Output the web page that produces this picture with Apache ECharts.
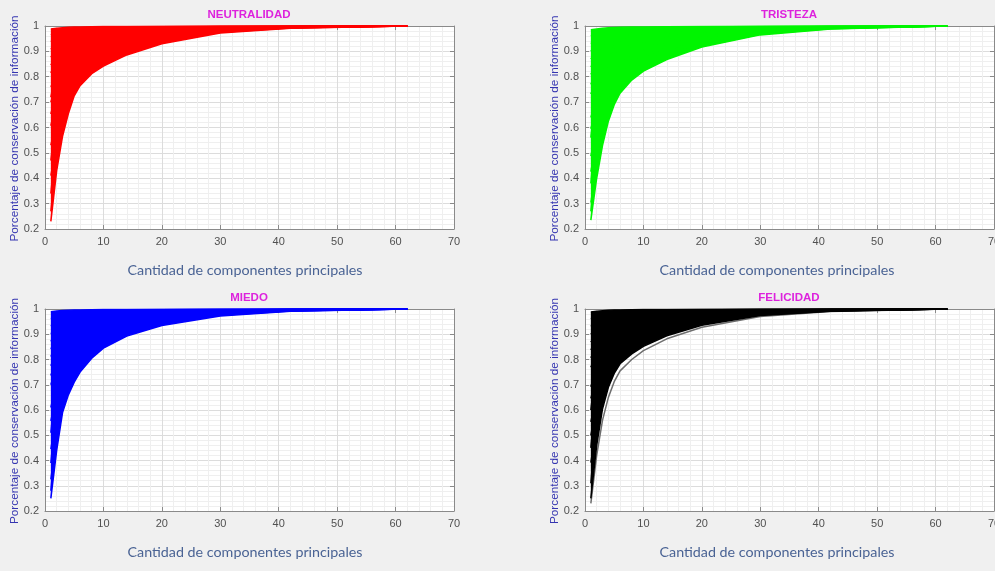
<!DOCTYPE html>
<html>
<head>
<meta charset="utf-8">
<script src="https://cdn.jsdelivr.net/npm/echarts/dist/echarts.min.js"></script>
<style>
html,body{margin:0;padding:0;background:#f0f0f0;}
#chart{width:995px;height:571px;}
</style>
</head>
<body>
<div id="chart"></div>
<script>
// Number of principal components (x sample points)
const componentes = [1,2,3,4,5,6,8,10,14,20,30,42,62];

// Panel titles
const titulos = ['NEUTRALIDAD','TRISTEZA','MIEDO','FELICIDAD'];

// Tick labels
const xTicks = [0,10,20,30,40,50,60,70];
const yTicks = [0.2,0.3,0.4,0.5,0.6,0.7,0.8,0.9,1];

// Curves (cumulative information retained)
const neutralidad = [
  [0.23,0.43,0.565,0.655,0.725,0.765,0.812,0.842,0.886,0.93,0.972,0.991,1],
  [0.27,0.487,0.608,0.689,0.752,0.788,0.831,0.858,0.897,0.937,0.975,0.992,1],
  [0.41,0.538,0.648,0.721,0.777,0.81,0.848,0.872,0.908,0.943,0.977,0.993,1],
  [0.34,0.584,0.682,0.748,0.799,0.828,0.863,0.885,0.917,0.949,0.98,0.993,1],
  [0.53,0.629,0.717,0.776,0.821,0.847,0.878,0.897,0.926,0.954,0.982,0.994,1],
  [0.47,0.669,0.748,0.8,0.84,0.864,0.891,0.908,0.934,0.959,0.984,0.995,1],
  [0.607,0.709,0.778,0.824,0.86,0.88,0.904,0.919,0.942,0.964,0.986,0.995,1],
  [0.653,0.743,0.804,0.845,0.876,0.894,0.915,0.929,0.949,0.968,0.987,0.996,1],
  [0.7,0.778,0.83,0.865,0.893,0.908,0.927,0.938,0.956,0.973,0.989,0.996,1],
  [0.76,0.806,0.852,0.883,0.906,0.92,0.936,0.946,0.961,0.976,0.99,0.997,1],
  [0.72,0.835,0.874,0.9,0.92,0.932,0.945,0.954,0.967,0.98,0.992,0.997,1],
  [0.815,0.863,0.896,0.917,0.934,0.944,0.955,0.962,0.973,0.983,0.993,0.998,1],
  [0.846,0.886,0.913,0.931,0.945,0.953,0.962,0.968,0.977,0.986,0.994,0.998,1],
  [0.877,0.909,0.93,0.945,0.956,0.962,0.97,0.975,0.982,0.989,0.996,0.999,1],
  [0.908,0.932,0.948,0.959,0.967,0.972,0.977,0.981,0.986,0.992,0.997,0.999,1],
  [0.938,0.954,0.965,0.972,0.978,0.981,0.985,0.987,0.991,0.994,0.998,0.999,1],
  [0.965,0.974,0.98,0.984,0.988,0.989,0.992,0.993,0.995,0.997,0.999,1,1],
  [0.988,0.991,0.993,0.995,0.996,0.996,0.997,0.998,0.998,0.999,1,1,1]
];

const tristeza = [
  [0.235,0.4,0.53,0.625,0.69,0.735,0.787,0.822,0.868,0.917,0.965,0.988,1],
  [0.304,0.454,0.572,0.659,0.718,0.759,0.806,0.838,0.88,0.924,0.968,0.989,1],
  [0.27,0.502,0.61,0.689,0.743,0.78,0.823,0.852,0.89,0.931,0.971,0.99,1],
  [0.426,0.55,0.647,0.719,0.767,0.801,0.84,0.866,0.901,0.938,0.974,0.991,1],
  [0.487,0.598,0.685,0.749,0.792,0.822,0.857,0.881,0.912,0.944,0.977,0.992,1],
  [0.38,0.64,0.718,0.775,0.814,0.841,0.872,0.893,0.921,0.95,0.979,0.993,1],
  [0.595,0.682,0.751,0.801,0.836,0.86,0.887,0.906,0.93,0.956,0.981,0.994,1],
  [0.64,0.718,0.779,0.824,0.854,0.875,0.9,0.916,0.938,0.961,0.984,0.994,1],
  [0.56,0.754,0.807,0.846,0.873,0.891,0.913,0.927,0.946,0.966,0.986,0.995,1],
  [0.732,0.79,0.835,0.869,0.891,0.907,0.925,0.938,0.954,0.971,0.988,0.996,1],
  [0.77,0.82,0.859,0.887,0.907,0.92,0.936,0.947,0.96,0.975,0.989,0.996,1],
  [0.809,0.85,0.882,0.906,0.922,0.934,0.947,0.955,0.967,0.979,0.991,0.997,1],
  [0.839,0.874,0.901,0.921,0.935,0.944,0.955,0.963,0.972,0.983,0.993,0.997,1],
  [0.87,0.898,0.92,0.936,0.947,0.955,0.964,0.97,0.978,0.986,0.994,0.998,1],
  [0.901,0.922,0.939,0.951,0.96,0.966,0.972,0.977,0.983,0.989,0.995,0.998,1],
  [0.931,0.946,0.958,0.966,0.972,0.976,0.981,0.984,0.988,0.993,0.997,0.999,1],
  [0.962,0.97,0.976,0.981,0.984,0.987,0.989,0.991,0.993,0.996,0.998,0.999,1],
  [0.985,0.988,0.991,0.993,0.994,0.995,0.996,0.996,0.997,0.998,0.999,1,1]
];

const miedo = [
  [0.25,0.44,0.59,0.66,0.71,0.75,0.805,0.845,0.893,0.935,0.972,0.991,1],
  [0.325,0.496,0.631,0.694,0.739,0.775,0.824,0.86,0.904,0.941,0.975,0.992,1],
  [0.28,0.541,0.664,0.721,0.762,0.795,0.84,0.873,0.912,0.947,0.977,0.993,1],
  [0.445,0.586,0.697,0.748,0.785,0.815,0.856,0.885,0.921,0.952,0.979,0.993,1],
  [0.39,0.63,0.729,0.776,0.809,0.835,0.871,0.898,0.929,0.957,0.982,0.994,1],
  [0.557,0.67,0.758,0.799,0.829,0.852,0.885,0.909,0.937,0.962,0.983,0.995,1],
  [0.61,0.709,0.787,0.823,0.849,0.87,0.899,0.919,0.944,0.966,0.985,0.995,1],
  [0.51,0.742,0.811,0.844,0.867,0.885,0.91,0.929,0.951,0.97,0.987,0.996,1],
  [0.7,0.776,0.836,0.864,0.884,0.9,0.922,0.938,0.957,0.974,0.989,0.996,1],
  [0.737,0.804,0.856,0.881,0.898,0.912,0.932,0.946,0.963,0.977,0.99,0.997,1],
  [0.775,0.832,0.877,0.898,0.913,0.925,0.941,0.953,0.968,0.98,0.992,0.997,1],
  [0.812,0.86,0.897,0.915,0.927,0.937,0.951,0.961,0.973,0.984,0.993,0.998,1],
  [0.842,0.882,0.914,0.929,0.939,0.947,0.959,0.967,0.978,0.986,0.994,0.998,1],
  [0.872,0.905,0.93,0.942,0.951,0.957,0.967,0.974,0.982,0.989,0.995,0.998,1],
  [0.902,0.927,0.947,0.956,0.962,0.967,0.975,0.98,0.986,0.992,0.996,0.999,1],
  [0.932,0.95,0.963,0.969,0.974,0.977,0.982,0.986,0.99,0.994,0.997,0.999,1],
  [0.962,0.972,0.979,0.983,0.985,0.987,0.99,0.992,0.995,0.997,0.999,1,1],
  [0.989,0.992,0.994,0.995,0.996,0.996,0.997,0.998,0.998,0.999,1,1,1]
];

// first curve is the separate grey outlier below the black mass
const felicidad = [
  [0.23,0.42,0.56,0.65,0.712,0.755,0.8,0.835,0.882,0.928,0.97,0.99,1],
  [0.25,0.46,0.605,0.69,0.745,0.783,0.822,0.852,0.894,0.936,0.974,0.991,1],
  [0.392,0.542,0.652,0.723,0.772,0.806,0.842,0.87,0.907,0.943,0.976,0.992,1],
  [0.31,0.582,0.683,0.748,0.793,0.824,0.856,0.881,0.915,0.948,0.978,0.993,1],
  [0.499,0.623,0.714,0.772,0.813,0.841,0.87,0.893,0.923,0.953,0.98,0.993,1],
  [0.553,0.664,0.745,0.797,0.833,0.858,0.884,0.904,0.932,0.958,0.983,0.994,1],
  [0.45,0.698,0.771,0.818,0.85,0.873,0.896,0.914,0.939,0.963,0.984,0.995,1],
  [0.646,0.733,0.798,0.839,0.868,0.887,0.908,0.924,0.946,0.967,0.986,0.995,1],
  [0.692,0.768,0.824,0.86,0.885,0.902,0.92,0.934,0.953,0.971,0.988,0.996,1],
  [0.6,0.797,0.846,0.877,0.899,0.914,0.93,0.942,0.959,0.975,0.989,0.996,1],
  [0.769,0.826,0.868,0.895,0.914,0.926,0.94,0.95,0.965,0.978,0.991,0.997,1],
  [0.807,0.855,0.89,0.912,0.928,0.939,0.95,0.959,0.97,0.982,0.992,0.997,1],
  [0.838,0.878,0.908,0.926,0.94,0.949,0.958,0.965,0.975,0.985,0.994,0.998,1],
  [0.869,0.901,0.925,0.94,0.951,0.958,0.966,0.972,0.98,0.988,0.995,0.998,1],
  [0.9,0.925,0.943,0.954,0.963,0.968,0.974,0.979,0.985,0.991,0.996,0.999,1],
  [0.931,0.948,0.96,0.968,0.974,0.978,0.982,0.985,0.989,0.994,0.997,0.999,1],
  [0.962,0.971,0.978,0.983,0.986,0.988,0.99,0.992,0.994,0.996,0.999,1,1],
  [0.988,0.991,0.993,0.995,0.996,0.996,0.997,0.998,0.998,0.999,1,1,1]
];

const colores = ['#ff0000','#00f500','#0000ff','#000000'];
const datos = [neutralidad, tristeza, miedo, felicidad];

const chart = echarts.init(document.getElementById('chart'), null, {renderer:'canvas'});

const grids = [
  {left:45, top:26, width:409, height:203},
  {left:585, top:26, width:409, height:203},
  {left:45, top:309, width:409, height:202},
  {left:585, top:309, width:409, height:202}
];

const frame = '#8a8a8a';
const xAxis = [], yAxis = [], series = [], graphic = [];

grids.forEach((g, i) => {
  xAxis.push({
    gridIndex:i, type:'value', min:xTicks[0], max:xTicks[xTicks.length-1], interval:10, position:'bottom',
    axisLine:{show:true, onZero:false, lineStyle:{color:frame, width:1}},
    axisTick:{show:true, inside:true, length:4, lineStyle:{color:frame}},
    axisLabel:{show:true, color:'#505050', fontSize:11, fontFamily:'Arial', margin:7},
    splitLine:{show:true, lineStyle:{color:'#dcdcdc', width:1}},
    minorTick:{show:false, splitNumber:5},
    minorSplitLine:{show:true, lineStyle:{color:'#efefef', width:1}}
  });
  xAxis.push({
    gridIndex:i, type:'value', min:xTicks[0], max:xTicks[xTicks.length-1], interval:10, position:'top',
    axisLine:{show:true, onZero:false, lineStyle:{color:frame, width:1}},
    axisTick:{show:true, inside:true, length:4, lineStyle:{color:frame}},
    axisLabel:{show:false}, splitLine:{show:false}
  });
  yAxis.push({
    gridIndex:i, type:'value', min:yTicks[0], max:yTicks[yTicks.length-1], interval:0.1, position:'left',
    axisLine:{show:true, onZero:false, lineStyle:{color:frame, width:1}},
    axisTick:{show:true, inside:true, length:4, lineStyle:{color:frame}},
    axisLabel:{show:true, color:'#505050', fontSize:11, fontFamily:'Arial', margin:6},
    splitLine:{show:true, lineStyle:{color:'#dcdcdc', width:1}},
    minorTick:{show:false, splitNumber:5},
    minorSplitLine:{show:true, lineStyle:{color:'#efefef', width:1}}
  });
  yAxis.push({
    gridIndex:i, type:'value', min:yTicks[0], max:yTicks[yTicks.length-1], interval:0.1, position:'right',
    axisLine:{show:true, onZero:false, lineStyle:{color:frame, width:1}},
    axisTick:{show:true, inside:true, length:4, lineStyle:{color:frame}},
    axisLabel:{show:false}, splitLine:{show:false}
  });

  const curvas = datos[i];
  // the dense mass of curves: filled between the bundle's upper and lower curves
  const masa = i === 3 ? curvas.slice(1) : curvas;
  const superior = componentes.map((x, j) => Math.max(...masa.map(c => c[j])));
  const inferior = componentes.map((x, j) => Math.min(...masa.map(c => c[j])));
  series.push({
    type:'custom', xAxisIndex:2*i, yAxisIndex:2*i, coordinateSystem:'cartesian2d',
    data:[[componentes[0], superior[0]]], silent:true, clip:true, z:1,
    renderItem: (params, api) => {
      const pts = [];
      componentes.forEach((x, j) => pts.push(api.coord([x, superior[j]])));
      for (let j = componentes.length - 1; j >= 0; j--) pts.push(api.coord([componentes[j], inferior[j]]));
      return {type:'polygon', shape:{points:pts}, style:{fill:colores[i]}};
    }
  });

  curvas.forEach((curva, k) => {
    let c = colores[i];
    if (i === 3 && k === 0) c = '#6e6e6e';
    series.push({
      type:'line', xAxisIndex:2*i, yAxisIndex:2*i,
      data: componentes.map((x, j) => [x, curva[j]]),
      symbol:'none', showSymbol:false, silent:true,
      lineStyle:{width:1.5, color:c}, itemStyle:{color:c},
      z: 2
    });
  });

  const titleX = i % 2 === 0 ? 249 : 789;
  graphic.push({
    type:'text', x:titleX, y:g.top - 11, z:100,
    style:{text:titulos[i], fill:'#dd22dd', font:'bold 11.5px Arial', align:'center', verticalAlign:'middle'}
  });
  graphic.push({
    type:'text', x: g.left - 30, y: g.top + g.height/2 + 1, rotation: Math.PI/2, z:100,
    style:{text:'Porcentaje de conservación de información', fill:'#3434b0', font:'11.8px Arial', align:'center', verticalAlign:'middle'}
  });
  graphic.push({
    type:'text', x: i % 2 === 0 ? 245 : 777, y: g.top + g.height + 41, z:100,
    style:{text:'Cantidad de componentes principales', fill:'#4a6394', font:'14.3px Lato', align:'center', verticalAlign:'middle'}
  });
});

chart.setOption({
  backgroundColor:'#f0f0f0',
  animation:false,
  grid: grids.map(g => Object.assign({containLabel:false, outerBoundsMode:'none', show:true, backgroundColor:'#ffffff', borderWidth:0}, g)),
  xAxis, yAxis, series, graphic
});
</script>
</body>
</html>
